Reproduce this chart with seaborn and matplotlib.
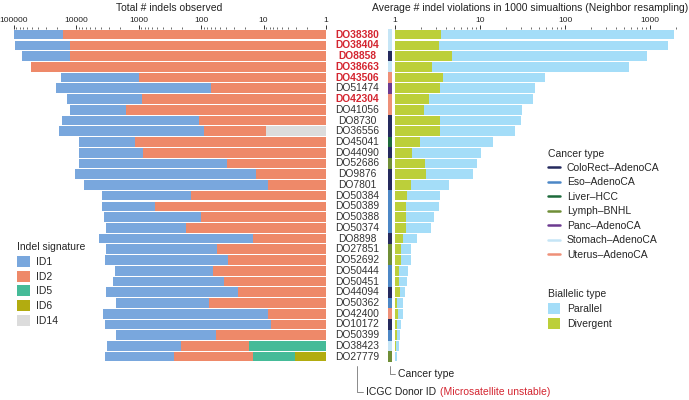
import numpy as np
import pandas as pd
import matplotlib
matplotlib.use("Agg")
import matplotlib.pyplot as plt
import seaborn as sns
from matplotlib.colors import ListedColormap
from matplotlib.lines import Line2D
from matplotlib.patches import Patch
from matplotlib.ticker import LogLocator, FuncFormatter, NullFormatter

# donors, top to bottom
donors = ["DO38380", "DO38404", "DO8858", "DO38663", "DO43506", "DO51474", "DO42304",
          "DO41056", "DO8730", "DO36556", "DO45041", "DO44090", "DO52686", "DO9876",
          "DO7801", "DO50384", "DO50389", "DO50388", "DO50374", "DO8898", "DO27851",
          "DO52692", "DO50444", "DO50451", "DO44094", "DO50362", "DO42400", "DO10172",
          "DO50399", "DO38423", "DO27779"]
msi = ["DO38380", "DO38404", "DO8858", "DO38663", "DO43506", "DO42304"]
cancer = ["Stomach-AdenoCA", "Stomach-AdenoCA", "ColoRect-AdenoCA", "Stomach-AdenoCA",
          "Uterus-AdenoCA", "Panc-AdenoCA", "Uterus-AdenoCA", "Uterus-AdenoCA",
          "ColoRect-AdenoCA", "ColoRect-AdenoCA", "Liver-HCC", "ColoRect-AdenoCA",
          "Lymph-BNHL", "ColoRect-AdenoCA", "ColoRect-AdenoCA", "Eso-AdenoCA",
          "Eso-AdenoCA", "Eso-AdenoCA", "Eso-AdenoCA", "ColoRect-AdenoCA", "Lymph-BNHL",
          "Lymph-BNHL", "Eso-AdenoCA", "Eso-AdenoCA", "ColoRect-AdenoCA", "Eso-AdenoCA",
          "Uterus-AdenoCA", "ColoRect-AdenoCA", "Eso-AdenoCA", "Stomach-AdenoCA",
          "Lymph-BNHL"]

# left panel: extent of each signature layer (log stacked)
upto_id1 = [98000, 95000, 72000, 52000, 17700, 21000, 14000, 12400, 16600, 19000, 9100,
            9100, 9100, 10300, 7500, 3800, 3850, 3550, 3300, 4300, 3300, 3400, 2350, 2560,
            3330, 2260, 3690, 3460, 2290, 3240, 3400]
upto_id2 = [15900, 12400, 12500, 52000, 1000, 70, 890, 1570, 107, 88, 1140, 850, 39, 13.2,
            8.5, 147, 550, 100, 176, 14.9, 55, 36.7, 64, 43, 25.9, 74, 8.5, 7.6, 58, 209, 266]
upto_id5 = [0] * 29 + [16.8, 14.9]
upto_id6 = [0] * 30 + [3.1]
upto_id14 = [0] * 9 + [9.1] + [0] * 21

# right panel: average violations
total_viol = [1910, 1620, 930, 572, 57.7, 44.4, 42, 31.2, 30, 25.8, 14.4, 10.2, 9.1, 8.3,
              4.27, 3.36, 3.3, 2.9, 2.65, 1.83, 1.56, 1.53, 1.41, 1.38, 1.32, 1.25, 1.23,
              1.18, 1.14, 1.1, 1.07]
divergent_viol = [3.5, 3.3, 4.7, 2.7, 3.7, 3.4, 2.5, 2.2, 3.4, 3.4, 1.97, 1.6, 2.27, 2.3,
                  1.54, 1.4, 1.34, 1.34, 1.36, 1.23, 1.17, 1.17, 1.12, 1.12, 1.14, 1.07,
                  1.08, 1.05, 1.05, 1.03, 1.01]

sig_colors = {"ID1": "#79A7DD", "ID2": "#EE8969", "ID5": "#45BB98", "ID6": "#B2AC10",
              "ID14": "#DCDCDC"}
cancer_colors = {"ColoRect-AdenoCA": "#252A5E", "Eso-AdenoCA": "#4C87C6",
                 "Liver-HCC": "#1D6A3B", "Lymph-BNHL": "#6F8E37", "Panc-AdenoCA": "#6C3A90",
                 "Stomach-AdenoCA": "#C5E5F6", "Uterus-AdenoCA": "#EE9078"}
par_color = "#A4DDF8"
div_color = "#BCCF3A"
red = "#D42530"
fs = 7.5

sns.set_theme(style="white")
plt.rcParams["font.family"] = ["Liberation Sans", "DejaVu Sans"]

W, H = 689, 400
fig = plt.figure(figsize=(W / 100, H / 100), dpi=100)

def fx(px):
    return px / W

def fy(py):
    return 1 - py / H

top_px, bot_px = 29.3, 362.0
ax_l = fig.add_axes([fx(13.5), fy(bot_px), fx(326 - 13.5), (bot_px - top_px) / H])
ax_r = fig.add_axes([fx(395), fy(bot_px), fx(675.6 - 395), (bot_px - top_px) / H])
ax_c = fig.add_axes([fx(388), fy(bot_px), fx(4), (bot_px - top_px) / H])

df = pd.DataFrame({"donor": donors, "id1": upto_id1, "id2": upto_id2, "id5": upto_id5,
                   "id6": upto_id6, "id14": upto_id14, "total": total_viol,
                   "div": divergent_viol})

bar_kw = dict(y="donor", orient="h", order=donors, width=0.9, saturation=1,
              errorbar=None, linewidth=0)
for col, sig in [("id1", "ID1"), ("id2", "ID2"), ("id5", "ID5"), ("id6", "ID6"),
                 ("id14", "ID14")]:
    sns.barplot(data=df, x=col, color=sig_colors[sig], ax=ax_l, **bar_kw)
sns.barplot(data=df, x="total", color=par_color, ax=ax_r, **bar_kw)
sns.barplot(data=df, x="div", color=div_color, ax=ax_r, **bar_kw)

fmt = FuncFormatter(lambda v, p: f"{v:g}")
for ax, lim in [(ax_l, (1e5, 1)), (ax_r, (1, 2000))]:
    ax.set_xscale("log")
    ax.set_xlim(*lim)
    ax.set_ylim(30.5, -0.5)
    ax.set_ylabel("")
    ax.set_xlabel("")
    ax.set_yticks([])
    ax.xaxis.set_major_locator(LogLocator(base=10))
    ax.xaxis.set_minor_locator(LogLocator(base=10, subs=np.arange(2, 10)))
    ax.xaxis.set_major_formatter(fmt)
    ax.xaxis.set_minor_formatter(NullFormatter())
    ax.xaxis.tick_top()
    ax.tick_params(axis="x", which="major", top=True, bottom=False, length=2.6, width=0.7,
                   color="#333333", labelsize=6.1, labelcolor="#222222", pad=1,
                   direction="out")
    ax.tick_params(axis="x", which="minor", top=True, bottom=False, length=1.5, width=0.5,
                   color="#333333", direction="out")
    for s in ax.spines.values():
        s.set_visible(False)
    ax.patch.set_alpha(0)

# cancer type strip
ctypes = list(cancer_colors)
codes = np.array([[ctypes.index(c)] for c in cancer])
sns.heatmap(codes, cmap=ListedColormap([cancer_colors[c] for c in ctypes]),
            vmin=-0.5, vmax=len(ctypes) - 0.5, cbar=False, ax=ax_c,
            xticklabels=False, yticklabels=False)
ax_c.set_ylim(len(donors), 0)

# donor labels
for i, d in enumerate(donors):
    y = fy(top_px) - (i + 0.5) * (bot_px - top_px) / 31 / H
    bold = d in msi
    fig.text(fx(357), y, d, ha="center", va="center", fontsize=7.4,
             color=red if bold else "#333333", fontweight="bold" if bold else "normal")

fig.text(fx(169), fy(8), "Total # indels observed", ha="center", va="center",
         fontsize=fs, color="#222222")
fig.text(fx(530), fy(8), "Average # indel violations in 1000 simualtions (Neighbor resampling)",
         ha="center", va="center", fontsize=fs, color="#222222")

# legends
leg_kw = dict(frameon=False, fontsize=fs, title_fontsize=fs, alignment="left",
              borderpad=0, borderaxespad=0)
sig_handles = [Patch(facecolor=c, edgecolor="none", label=k) for k, c in sig_colors.items()]
fig.legend(handles=sig_handles, title="Indel signature", loc="upper left",
           bbox_to_anchor=(fx(17), fy(242.5)), handlelength=1.25, handleheight=1.25,
           handletextpad=0.6, labelspacing=0.35, **leg_kw)

ct_handles = [Line2D([], [], color=c, lw=1.8, label=k.replace("-", "\u2013"))
              for k, c in cancer_colors.items()]
fig.legend(handles=ct_handles, title="Cancer type", loc="upper left",
           bbox_to_anchor=(fx(548), fy(148.5)), handlelength=1.15, handletextpad=0.65,
           labelspacing=0.43, **leg_kw)

bi_handles = [Patch(facecolor=par_color, edgecolor="none", label="Parallel"),
              Patch(facecolor=div_color, edgecolor="none", label="Divergent")]
fig.legend(handles=bi_handles, title="Biallelic type", loc="upper left",
           bbox_to_anchor=(fx(548), fy(289)), handlelength=1.15, handleheight=1.2,
           handletextpad=0.65, labelspacing=0.4, **leg_kw)

# bottom brackets
lc = "#777777"
fig.add_artist(Line2D([fx(389.5), fx(389.5), fx(395)], [fy(366), fy(374), fy(374)],
                      color=lc, lw=0.6))
fig.text(fx(398), fy(374), "Cancer type", ha="left", va="center", fontsize=fs,
         color="#222222")
fig.add_artist(Line2D([fx(357), fx(357), fx(363)], [fy(366), fy(392), fy(392)],
                      color=lc, lw=0.6))
fig.text(fx(366), fy(392), "ICGC Donor ID", ha="left", va="center", fontsize=fs,
         color="#222222")
fig.text(fx(440), fy(392), "(Microsatellite unstable)", ha="left", va="center",
         fontsize=fs, color=red)

fig.savefig("out.png", dpi=100)
